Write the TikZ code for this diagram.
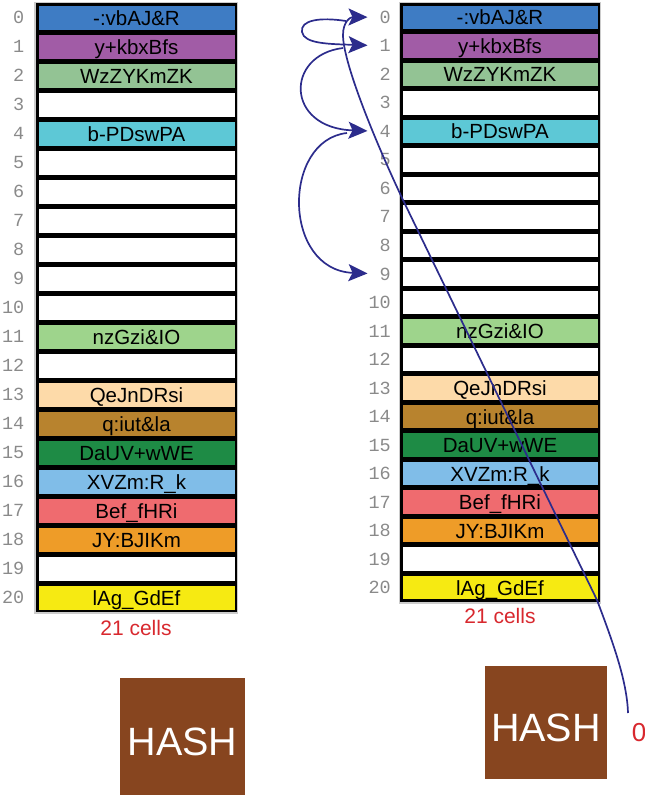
\documentclass[tikz,border=0pt]{standalone}
\usepackage{fontspec}
\setmainfont{Liberation Sans}
\setmonofont{Liberation Mono}
\usetikzlibrary{positioning,arrows.meta}
\definecolor{c0}{HTML}{3E7CC4}
\definecolor{c1}{HTML}{A15CA6}
\definecolor{c2}{HTML}{93C394}
\definecolor{c4}{HTML}{5DC8D6}
\definecolor{c11}{HTML}{9ED48C}
\definecolor{c13}{HTML}{FDDAA9}
\definecolor{c14}{HTML}{B8832E}
\definecolor{c15}{HTML}{1E8B45}
\definecolor{c16}{HTML}{80BDE8}
\definecolor{c17}{HTML}{EF6B6F}
\definecolor{c18}{HTML}{EE9C28}
\definecolor{c20}{HTML}{F6EA12}
\definecolor{hashbrown}{HTML}{87451F}
\definecolor{cellred}{HTML}{D8282E}
\definecolor{probeblue}{HTML}{2C2C8C}
\definecolor{idxgray}{HTML}{8A8A8A}

\begin{document}
\begin{tikzpicture}[x=1pt,y=-1pt,>={Stealth[length=19pt,width=17pt,inset=4pt]},
                    probe/.style={draw=probeblue,line width=1.7pt,shorten >=12pt,->}]
    \tikzstyle{every node}=[inner sep=0]
    \tikzstyle{cell}=[draw=black,line width=2.5pt,rectangle,text height=15pt,text depth=0pt,font=\fontsize{20.5}{22}\selectfont]
    \tikzstyle{lcell}=[cell,minimum width=198.5pt,minimum height=26.5pt]
    \tikzstyle{rcell}=[cell,minimum width=197.5pt,minimum height=26pt]
    \tikzstyle{idx}=[anchor=east,text=idxgray,font=\fontsize{18.5}{20}\ttfamily]
    \tikzstyle{count}=[text=cellred,font=\fontsize{21}{24}\selectfont]
    \tikzstyle{hash}=[fill=hashbrown,text=white,text height=37pt,text depth=0pt,font=\fontsize{39.5}{40}\selectfont]
    \useasboundingbox (0,0) rectangle (645,796);
    {
        % frames behind the two tables
        \fill[gray!40] (33.5,2) rectangle (237.5,613.5);
        \fill[gray!40] (398.5,2) rectangle (600.5,603.5);

        \foreach \i/\c/\t in {0/c0/{-:vbAJ\&R},1/c1/{y+kbxBfs},2/c2/{WzZYKmZK},3/white/{},4/c4/{b-PDswPA},
                              5/white/{},6/white/{},7/white/{},8/white/{},9/white/{},10/white/{},
                              11/c11/{nzGzi\&IO},12/white/{},13/c13/{QeJnDRsi},14/c14/{q:iut\&la},
                              15/c15/{DaUV+wWE},16/c16/{XVZm:R\_k},17/c17/{Bef\_fHRi},18/c18/{JY:BJIKm},
                              19/white/{},20/c20/{lAg\_GdEf}} {
            \node[lcell,fill=\c] (l\i) at (136.5,17.5+29*\i) {\t};
            \node[rcell,fill=\c] (r\i) at (500,17.26+28.52*\i) {\t};
            \node[idx] (li\i) at (24.5,17.5+29*\i) {\i};
            \node[idx] (ri\i) at (391,17.26+28.52*\i) {\i};
        }
        \node[count] (lcount) at (136,628) {21 cells};
        \node[count] (rcount) at (500,615.5) {21 cells};

        \node[hash,minimum width=125pt,minimum height=117pt] (lhash) at (182.5,736.5) {HASH};
        \node[hash,minimum width=122pt,minimum height=113pt] (rhash) at (546,722.5) {HASH};
        \node[count,font=\fontsize{26}{28}\selectfont] (hashval) at (639,733) {0};

        % probe sequence 0 -> 1 -> 4 -> 9
        \coordinate (tail) at (628,713);
        \coordinate (turn0) at (346,21);
        \coordinate (turn1) at (343,48);
        \coordinate (turn4) at (347,133);
        \draw[probe] (tail) .. controls (627,680) and (612,640) .. (597,600) -- (403,200)
                     .. controls (370,130) and (343,60) .. (343,35)
                     .. controls (343,22) and (350,17) .. (ri0.west);
        \draw[probe] (turn0) .. controls (320,17) and (300,20) .. (302,32)
                     .. controls (304,44) and (330,44) .. (ri1.west);
        \draw[probe] (turn1) .. controls (285,55) and (285,128) .. (ri4.west);
        \draw[probe] (turn4) .. controls (282,140) and (282,270) .. (ri9.west);
    }
\end{tikzpicture}
\end{document}
